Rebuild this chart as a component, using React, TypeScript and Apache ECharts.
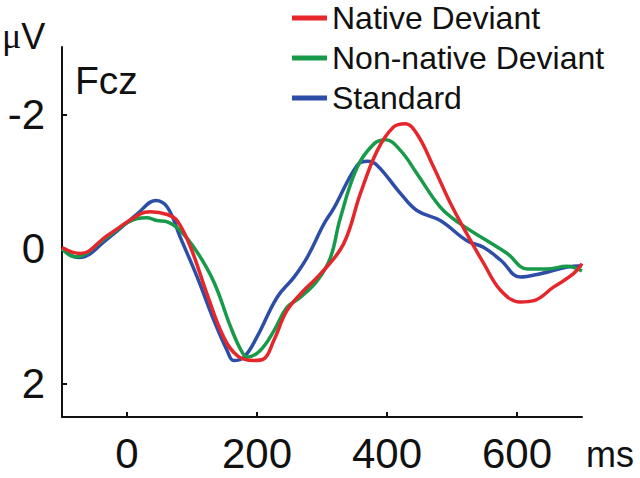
import React, { useEffect, useRef } from "react";
import * as echarts from "echarts";

const seriesNames = ["Native Deviant", "Non-native Deviant", "Standard"];
const seriesColors = ["#e5262b", "#179a4a", "#2c4ea7"];

const nativeT = [-100, -72, -30, 21, 36, 62, 77, 98, 123, 149, 170, 195, 210, 226, 246, 272, 298, 333, 359, 385, 410, 428, 446, 472, 498, 523, 549, 575, 605, 626, 656, 687, 700];
const nativeV = [-0.02, 0.07, -0.2, -0.52, -0.55, -0.51, -0.42, -0.02, 0.67, 1.32, 1.59, 1.66, 1.64, 1.36, 0.92, 0.62, 0.37, -0.07, -0.82, -1.46, -1.81, -1.86, -1.71, -1.21, -0.67, -0.22, 0.22, 0.62, 0.79, 0.77, 0.57, 0.37, 0.22];

const nonNativeT = [-100, -80, -30, 16, 30, 46, 62, 82, 108, 134, 159, 175, 185, 205, 226, 246, 267, 293, 313, 328, 354, 380, 398, 421, 446, 482, 513, 554, 585, 616, 646, 677, 700];
const nonNativeV = [0, 0.12, -0.18, -0.45, -0.46, -0.42, -0.4, -0.27, 0.05, 0.5, 1.15, 1.5, 1.61, 1.51, 1.22, 0.87, 0.72, 0.47, 0.13, -0.45, -1.21, -1.56, -1.62, -1.46, -1.12, -0.62, -0.37, -0.12, 0.07, 0.3, 0.3, 0.26, 0.33];

const standardT = [-100, -74, -30, 16, 44, 62, 82, 108, 134, 154, 164, 180, 200, 231, 257, 277, 303, 318, 354, 370, 385, 421, 446, 482, 523, 549, 575, 605, 636, 677, 700];
const standardV = [0, 0.13, -0.15, -0.52, -0.72, -0.62, -0.17, 0.42, 1.07, 1.51, 1.66, 1.61, 1.31, 0.72, 0.42, 0.13, -0.37, -0.6, -1.24, -1.3, -1.24, -0.82, -0.57, -0.42, -0.12, -0.02, 0.17, 0.42, 0.37, 0.27, 0.25];

const xTicks = [0, 200, 400, 600];
const yTicks = [-2, 0, 2];

const FONT = "'Liberation Sans', Arial, Helvetica, sans-serif";

function pairs(t: number[], v: number[]) {
  return t.map((x, i) => [x, v[i]]);
}

export default function App() {
  const ref = useRef<HTMLDivElement>(null);
  useEffect(() => {
    if (!ref.current) return;
    const chart = echarts.init(ref.current, undefined, { renderer: "svg" });
    const data = [pairs(nativeT, nativeV), pairs(nonNativeT, nonNativeV), pairs(standardT, standardV)];
    chart.setOption({
      animation: false,
      backgroundColor: "#ffffff",
      grid: { left: 62, right: 58, top: 47, bottom: 61 },
      legend: {
        orient: "vertical",
        left: 287,
        top: -3,
        icon: "rect",
        itemWidth: 35,
        itemHeight: 5,
        itemGap: 8,
        selectedMode: false,
        data: seriesNames,
        textStyle: {
          fontFamily: FONT,
          fontSize: 32,
          lineHeight: 32,
          color: "#111",
        },
      },
      xAxis: {
        type: "value",
        min: -100,
        max: 700,
        splitLine: { show: false },
        axisLine: { onZero: false, lineStyle: { color: "#111", width: 2 } },
        axisTick: { customValues: xTicks, inside: true, length: 5, lineStyle: { color: "#111", width: 2 } },
        axisLabel: {
          customValues: xTicks,
          margin: 36,
          verticalAlign: "middle",
          fontFamily: FONT,
          fontSize: 42,
          color: "#111",
        },
      },
      yAxis: {
        type: "value",
        inverse: true,
        min: -3,
        max: 2.5,
        splitLine: { show: false },
        axisLine: { show: true, onZero: false, lineStyle: { color: "#111", width: 2 } },
        axisTick: { show: true, customValues: yTicks, inside: true, length: 5, lineStyle: { color: "#111", width: 2 } },
        axisLabel: {
          customValues: yTicks,
          margin: 17,
          fontFamily: FONT,
          fontSize: 42,
          color: "#111",
        },
      },
      graphic: [
        {
          type: "text",
          left: 2,
          top: 18,
          style: {
            text: "{mu|μ}{v|V}",
            rich: {
              mu: { fontFamily: "'Liberation Serif', 'DejaVu Serif', serif", fontSize: 36, fill: "#111" },
              v: { fontFamily: FONT, fontSize: 36, fill: "#111" },
            },
          },
        },
        {
          type: "text",
          x: 75,
          y: 80,
          style: { text: "Fcz", fontFamily: FONT, fontSize: 39, fill: "#111", verticalAlign: "middle", align: "left" },
        },
        {
          type: "text",
          x: 586,
          y: 454,
          style: { text: "ms", fontFamily: FONT, fontSize: 36, fill: "#111", verticalAlign: "middle", align: "left" },
        },
      ],
      series: seriesNames.map((name, i) => ({
        name,
        type: "line",
        data: data[i],
        smooth: 0.4,
        showSymbol: false,
        symbol: "none",
        color: seriesColors[i],
        lineStyle: { color: seriesColors[i], width: 3.5 },
        z: 3 - i,
      })),
    });
    return () => chart.dispose();
  }, []);
  return (
    <div
      ref={ref}
      style={{ position: "fixed", left: 0, top: 0, width: 640, height: 478, background: "#fff" }}
    />
  );
}
